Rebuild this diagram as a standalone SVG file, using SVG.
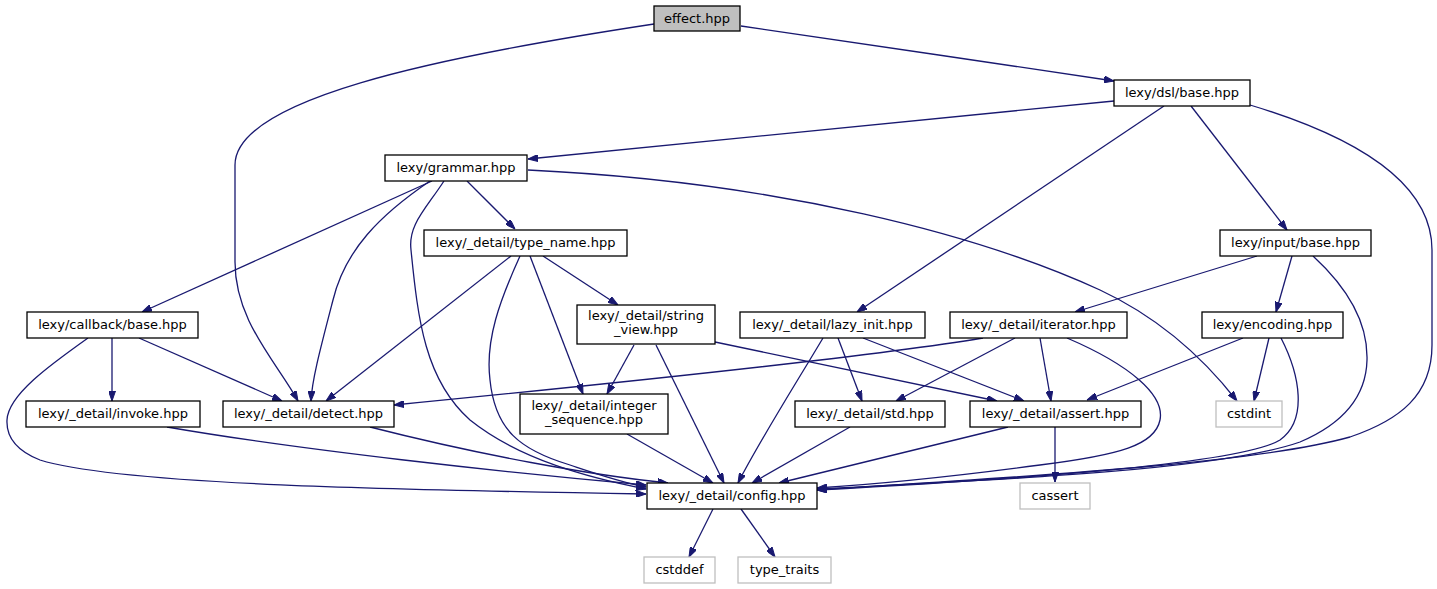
<svg xmlns="http://www.w3.org/2000/svg" width="1437" height="589" viewBox="0 0 1437 589">
<style>
.n rect{fill:#ffffff;stroke:#000000;stroke-width:1.3}
.n.root rect{fill:#bfbfbf;stroke:#000000}
.n.ext rect{fill:#ffffff;stroke:#bfbfbf}
.n text{font-family:"DejaVu Sans","Liberation Sans",sans-serif;font-size:13px;fill:#000000;text-anchor:middle}
#edges path{fill:none;stroke:#191970;stroke-width:1.3;marker-end:url(#ah)}
</style>
<defs>
<marker id="ah" viewBox="0 0 10 7" refX="10" refY="3.5" markerWidth="10" markerHeight="7" markerUnits="userSpaceOnUse" orient="auto">
<polygon points="0,0 10,3.5 0,7" fill="#191970" stroke="#191970" stroke-width="1"/>
</marker>
</defs>
<rect width="1437" height="589" fill="#ffffff"/>
<g id="edges">
<path d="M741,26 C850,43 1000,63 1114,81"/>
<path d="M654,24 C430,58 235,100 235,165 L235,262 C235,320 275,360 298,401"/>
<path d="M1114,101 L528,159"/>
<path d="M1164,106 L857,312"/>
<path d="M1191,106 L1287,230"/>
<path d="M1250,105 C1350,135 1432,180 1432,250 L1432,345 C1432,395 1400,420 1350,437 C1250,465 1000,478 817,490"/>
<path d="M467,181 L515,229"/>
<path d="M432,181 L142,312"/>
<path d="M430,181 C380,215 345,250 333,300 C320,350 312,380 311,401"/>
<path d="M444,181 C425,210 408,225 411,250 C418,320 425,380 470,420 C520,460 590,478 646,489"/>
<path d="M528,170 C780,182 980,235 1100,290 C1160,318 1205,360 1237,401"/>
<path d="M543,256 L618,305"/>
<path d="M511,256 L326,401"/>
<path d="M530,256 L583,394"/>
<path d="M520,256 C500,300 485,340 490,380 C495,430 520,450 570,465 C600,475 620,482 646,487"/>
<path d="M112,338 L112,401"/>
<path d="M139,338 L282,401"/>
<path d="M88,338 C50,365 8,395 7,420 C6,440 20,452 40,460 C120,485 400,490 646,494"/>
<path d="M634,345 L607,394"/>
<path d="M656,345 L724,483"/>
<path d="M715,342 L997,401"/>
<path d="M838,338 L862,401"/>
<path d="M863,338 L1024,401"/>
<path d="M823,338 C795,385 760,440 738,483"/>
<path d="M983,338 C900,352 700,375 394,405"/>
<path d="M1015,338 L896,401"/>
<path d="M1040,338 L1051,401"/>
<path d="M1067,338 C1130,365 1165,395 1160,420 C1155,445 1120,455 1040,465 C950,477 880,484 817,488"/>
<path d="M1257,256 L1075,312"/>
<path d="M1292,256 L1276,312"/>
<path d="M1313,256 C1350,290 1368,325 1367,360 C1366,400 1340,425 1300,442 C1220,470 1000,480 817,489"/>
<path d="M1243,338 L1087,400"/>
<path d="M1269,338 L1254,401"/>
<path d="M1281,338 C1300,375 1308,420 1280,440 C1240,465 1000,480 817,490"/>
<path d="M167,427 C300,450 500,472 646,485"/>
<path d="M370,427 C480,455 590,475 668,483"/>
<path d="M627,434 L713,483"/>
<path d="M850,427 L752,483"/>
<path d="M1008,427 L779,483"/>
<path d="M1055,427 L1055,482"/>
<path d="M713,509 L689,557"/>
<path d="M741,509 L775,557"/>
</g>
<g id="effect" class="n root"><rect x="654" y="6" width="86" height="25"/><text x="697" y="23">effect.hpp</text></g>
<g id="dsl_base" class="n"><rect x="1114" y="80" width="136" height="26"/><text x="1182" y="97">lexy/dsl/base.hpp</text></g>
<g id="grammar" class="n"><rect x="385" y="155" width="142" height="26"/><text x="456" y="172">lexy/grammar.hpp</text></g>
<g id="type_name" class="n"><rect x="424" y="230" width="203" height="26"/><text x="525.5" y="247">lexy/_detail/type_name.hpp</text></g>
<g id="input_base" class="n"><rect x="1220" y="230" width="151" height="26"/><text x="1295.5" y="247">lexy/input/base.hpp</text></g>
<g id="callback_base" class="n"><rect x="27" y="312" width="171" height="26"/><text x="112.5" y="329">lexy/callback/base.hpp</text></g>
<g id="string_view" class="n"><rect x="577" y="305" width="138" height="39"/><text x="646" y="320">lexy/_detail/string</text><text x="646" y="334">_view.hpp</text></g>
<g id="lazy_init" class="n"><rect x="740" y="312" width="185" height="26"/><text x="832.5" y="329">lexy/_detail/lazy_init.hpp</text></g>
<g id="iterator" class="n"><rect x="950" y="312" width="177" height="26"/><text x="1038.5" y="329">lexy/_detail/iterator.hpp</text></g>
<g id="encoding" class="n"><rect x="1202" y="312" width="141" height="26"/><text x="1272.5" y="329">lexy/encoding.hpp</text></g>
<g id="invoke" class="n"><rect x="26" y="401" width="174" height="26"/><text x="113" y="418">lexy/_detail/invoke.hpp</text></g>
<g id="detect" class="n"><rect x="223" y="401" width="171" height="26"/><text x="308.5" y="418">lexy/_detail/detect.hpp</text></g>
<g id="integer_sequence" class="n"><rect x="520" y="394" width="148" height="40"/><text x="594" y="409.5">lexy/_detail/integer</text><text x="594" y="423.5">_sequence.hpp</text></g>
<g id="std" class="n"><rect x="795" y="401" width="150" height="26"/><text x="870" y="418">lexy/_detail/std.hpp</text></g>
<g id="assert" class="n"><rect x="970" y="401" width="171" height="26"/><text x="1055.5" y="418">lexy/_detail/assert.hpp</text></g>
<g id="cstdint" class="n ext"><rect x="1216" y="401" width="66" height="26"/><text x="1249" y="418">cstdint</text></g>
<g id="config" class="n"><rect x="647" y="483" width="170" height="26"/><text x="732" y="500">lexy/_detail/config.hpp</text></g>
<g id="cassert" class="n ext"><rect x="1020" y="483" width="70" height="26"/><text x="1055" y="500">cassert</text></g>
<g id="cstddef" class="n ext"><rect x="644" y="557" width="71" height="26"/><text x="679.5" y="574">cstddef</text></g>
<g id="type_traits" class="n ext"><rect x="738" y="557" width="93" height="26"/><text x="784.5" y="574">type_traits</text></g>
</svg>
